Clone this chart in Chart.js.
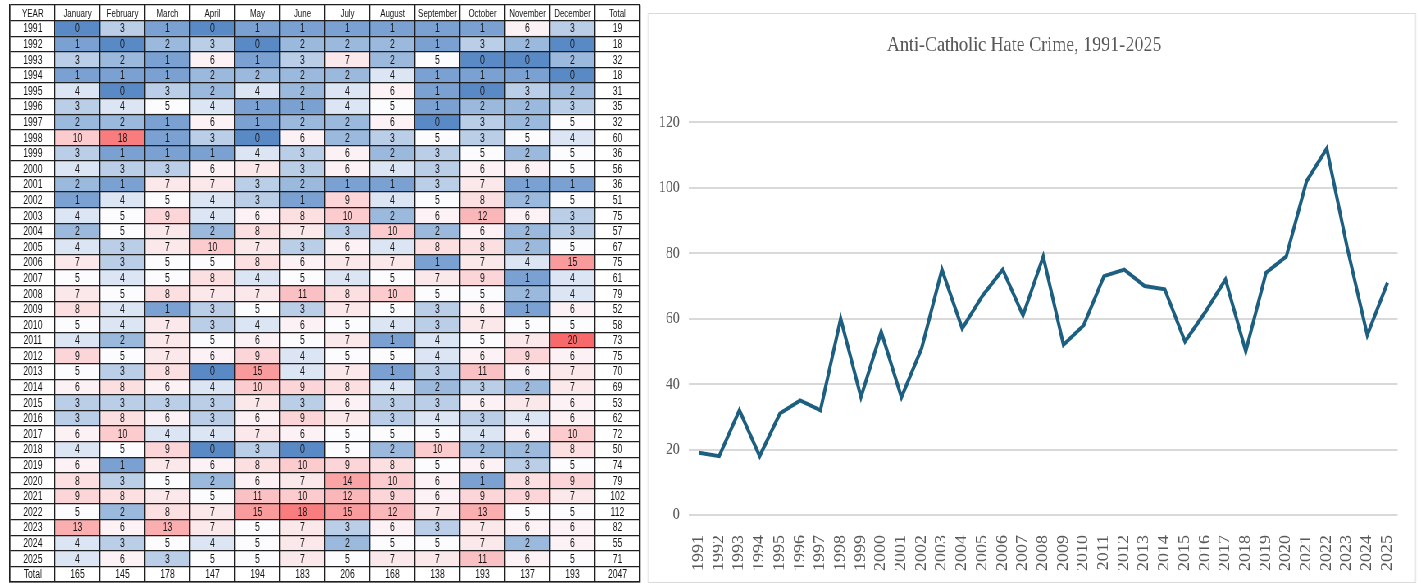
<!DOCTYPE html>
<html>
<head>
<meta charset="utf-8">
<script src="https://cdn.jsdelivr.net/npm/chart.js@4.4.1/dist/chart.umd.min.js"></script>
<style>
  html, body { margin: 0; padding: 0; background: #fff; overflow: hidden; }
  #table-wrap { position: absolute; left: 0; top: 0; width: 645px; height: 583px; }
  /* the reference picture is squeezed sideways, so lay the chart out wide and squeeze */
  #page { position: absolute; left: 0; top: 0; width: 1732px; height: 583px; transform: scaleX(0.82); transform-origin: 0 0; }
  #line-wrap { position: absolute; left: 790px; top: 13px; width: 935px; height: 568px; border: 1px solid #d9d9d9; }
</style>
</head>
<body>
<div id="table-wrap"><canvas id="heatmap" width="645" height="583"></canvas></div>
<div id="page">
  <div id="line-wrap"><canvas id="trend" width="935" height="568"></canvas></div>
</div>
<script>
const years = [
  1991, 1992, 1993, 1994, 1995, 1996, 1997, 1998, 1999, 2000, 2001, 2002,
  2003, 2004, 2005, 2006, 2007, 2008, 2009, 2010, 2011, 2012, 2013, 2014,
  2015, 2016, 2017, 2018, 2019, 2020, 2021, 2022, 2023, 2024, 2025,
];
const months = [
  "January", "February", "March", "April", "May", "June",
  "July", "August", "September", "October", "November", "December",
];

// one row per year, January..December
const counts = [
  [0, 3, 1, 0, 1, 1, 1, 1, 1, 1, 6, 3],
  [1, 0, 2, 3, 0, 2, 2, 2, 1, 3, 2, 0],
  [3, 2, 1, 6, 1, 3, 7, 2, 5, 0, 0, 2],
  [1, 1, 1, 2, 2, 2, 2, 4, 1, 1, 1, 0],
  [4, 0, 3, 2, 4, 2, 4, 6, 1, 0, 3, 2],
  [3, 4, 5, 4, 1, 1, 4, 5, 1, 2, 2, 3],
  [2, 2, 1, 6, 1, 2, 2, 6, 0, 3, 2, 5],
  [10, 18, 1, 3, 0, 6, 2, 3, 5, 3, 5, 4],
  [3, 1, 1, 1, 4, 3, 6, 2, 3, 5, 2, 5],
  [4, 3, 3, 6, 7, 3, 6, 4, 3, 6, 6, 5],
  [2, 1, 7, 7, 3, 2, 1, 1, 3, 7, 1, 1],
  [1, 4, 5, 4, 3, 1, 9, 4, 5, 8, 2, 5],
  [4, 5, 9, 4, 6, 8, 10, 2, 6, 12, 6, 3],
  [2, 5, 7, 2, 8, 7, 3, 10, 2, 6, 2, 3],
  [4, 3, 7, 10, 7, 3, 6, 4, 8, 8, 2, 5],
  [7, 3, 5, 5, 8, 6, 7, 7, 1, 7, 4, 15],
  [5, 4, 5, 8, 4, 5, 4, 5, 7, 9, 1, 4],
  [7, 5, 8, 7, 7, 11, 8, 10, 5, 5, 2, 4],
  [8, 4, 1, 3, 5, 3, 7, 5, 3, 6, 1, 6],
  [5, 4, 7, 3, 4, 6, 5, 4, 3, 7, 5, 5],
  [4, 2, 7, 5, 6, 5, 7, 1, 4, 5, 7, 20],
  [9, 5, 7, 6, 9, 4, 5, 5, 4, 6, 9, 6],
  [5, 3, 8, 0, 15, 4, 7, 1, 3, 11, 6, 7],
  [6, 8, 6, 4, 10, 9, 8, 4, 2, 3, 2, 7],
  [3, 3, 3, 3, 7, 3, 6, 3, 3, 6, 7, 6],
  [3, 8, 6, 3, 6, 9, 7, 3, 4, 3, 4, 6],
  [6, 10, 4, 4, 7, 6, 5, 5, 5, 4, 6, 10],
  [4, 5, 9, 0, 3, 0, 5, 2, 10, 2, 2, 8],
  [6, 1, 7, 6, 8, 10, 9, 8, 5, 6, 3, 5],
  [8, 3, 5, 2, 6, 7, 14, 10, 6, 1, 8, 9],
  [9, 8, 7, 5, 11, 10, 12, 9, 6, 9, 9, 7],
  [5, 2, 8, 7, 15, 18, 15, 12, 7, 13, 5, 5],
  [13, 6, 13, 7, 5, 7, 3, 6, 3, 7, 6, 6],
  [4, 3, 5, 4, 5, 7, 2, 5, 5, 7, 2, 6],
  [4, 6, 3, 5, 5, 7, 5, 7, 7, 11, 6, 5],
];
const yearTotals = [
  19, 18, 32, 18, 31, 35, 32, 60, 36, 56, 36, 51, 75, 57, 67, 75, 61, 79,
  52, 58, 73, 75, 70, 69, 53, 62, 72, 50, 74, 79, 102, 112, 82, 55, 71,
];
const monthTotals = [165, 145, 178, 147, 194, 183, 206, 168, 138, 193, 137, 193];
const grandTotal = 2047;
const yTicks = [0, 20, 40, 60, 80, 100, 120];

const columnNames = ["YEAR", ...months, "Total"];
const rowLabels = ["YEAR", ...years.map(String), "Total"];

// Excel style 3-colour scale: min blue, median white, max red
const allCounts = counts.flat();
const sorted = [...allCounts].sort((a, b) => a - b);
const lowVal = sorted[0];
const highVal = sorted[sorted.length - 1];
const midVal = sorted[Math.floor(sorted.length / 2)];
const lowRgb = [90, 138, 198];
const midRgb = [252, 252, 255];
const highRgb = [248, 105, 107];

function heatColor(v) {
  const mix = (a, b, t) => a.map((x, i) => Math.round(x + (b[i] - x) * t));
  const rgb = v <= midVal
    ? mix(lowRgb, midRgb, (v - lowVal) / (midVal - lowVal))
    : mix(midRgb, highRgb, (v - midVal) / (highVal - midVal));
  return `rgb(${rgb.join(",")})`;
}

function isCountCell(r, c) {
  return r > 0 && r <= years.length && c > 0 && c <= months.length;
}

function cellText(r, c) {
  if (r === 0) return columnNames[c];
  if (r === rowLabels.length - 1) {
    if (c === 0) return "Total";
    if (c === columnNames.length - 1) return grandTotal;
    return monthTotals[c - 1];
  }
  if (c === 0) return years[r - 1];
  if (c === columnNames.length - 1) return yearTotals[r - 1];
  return counts[r - 1][c - 1];
}

const tableDatasets = columnNames.map((name, c) => ({
  label: name,
  data: rowLabels.map(() => 1),
  backgroundColor: rowLabels.map((_, r) =>
    isCountCell(r, c) ? heatColor(counts[r - 1][c - 1]) : "#ffffff"
  ),
  borderWidth: 0,
  barPercentage: 1,
  categoryPercentage: 1,
}));

// narrow font look: draw each cell's text squeezed sideways
const cellLabels = {
  id: "cellLabels",
  afterDraw(chart) {
    const { ctx } = chart;
    ctx.save();
    ctx.fillStyle = "#111";
    ctx.textAlign = "center";
    ctx.textBaseline = "middle";
    chart.data.datasets.forEach((ds, c) => {
      chart.getDatasetMeta(c).data.forEach((bar, r) => {
        const header = r === 0;
        ctx.font = header
          ? "11.5px 'Liberation Sans', Arial, sans-serif"
          : "12px 'Liberation Sans', Arial, sans-serif";
        ctx.save();
        ctx.translate((bar.x + bar.base) / 2, Math.round(bar.y) + 0.5);
        ctx.scale(header ? 0.69 : 0.72, 1);
        ctx.fillText(String(cellText(r, c)), 0, 0);
        ctx.restore();
      });
    });
    ctx.restore();
  },
};

const tableLine = "#1f1f1f";

new Chart(document.getElementById("heatmap"), {
  type: "bar",
  data: { labels: rowLabels, datasets: tableDatasets },
  options: {
    indexAxis: "y",
    responsive: false,
    animation: false,
    events: [],
    layout: { padding: { left: 10, top: 5, right: 5, bottom: 1 } },
    plugins: { legend: { display: false }, tooltip: { enabled: false } },
    scales: {
      x: {
        type: "linear",
        stacked: true,
        min: 0,
        max: columnNames.length,
        ticks: { display: false, stepSize: 1 },
        grid: { color: tableLine, lineWidth: 1.3, drawTicks: false, z: 1 },
        border: { color: tableLine, width: 1.5, z: 2 },
      },
      y: {
        stacked: true,
        ticks: { display: false, autoSkip: false },
        grid: { offset: true, color: tableLine, lineWidth: 1.3, drawTicks: false, z: 1 },
        border: { color: tableLine, width: 1.5, z: 2 },
      },
    },
  },
  plugins: [cellLabels],
});

const serif = "'Liberation Serif', 'Times New Roman', serif";

new Chart(document.getElementById("trend"), {
  type: "line",
  data: {
    labels: years.map(String),
    datasets: [
      {
        label: "Anti-Catholic Hate Crime",
        data: yearTotals,
        borderColor: "#1c5f80",
        borderWidth: 4,
        pointRadius: 0,
        tension: 0,
        fill: false,
      },
    ],
  },
  options: {
    responsive: false,
    animation: false,
    events: [],
    layout: { padding: { left: 0, right: 19, top: 0, bottom: 0 } },
    plugins: {
      legend: { display: false },
      tooltip: { enabled: false },
      title: {
        display: true,
        text: "Anti-Catholic Hate Crime, 1991-2025",
        color: "#595959",
        font: { family: serif, size: 22, weight: "normal" },
        padding: { top: 18, bottom: 64 },
      },
    },
    scales: {
      x: {
        offset: true,
        grid: { display: false },
        border: { display: false },
        ticks: {
          color: "#595959",
          font: { family: serif, size: 18 },
          minRotation: 90,
          maxRotation: 90,
          autoSkip: false,
          padding: 12,
        },
        afterFit: (scale) => { scale.height = 67; },
      },
      y: {
        min: yTicks[0],
        max: yTicks[yTicks.length - 1],
        ticks: {
          stepSize: yTicks[1] - yTicks[0],
          color: "#595959",
          font: { family: serif, size: 17 },
          padding: 11,
        },
        grid: { color: "#d9d9d9", lineWidth: 2, drawTicks: false },
        border: { display: false },
        afterFit: (scale) => { scale.width = 49; },
      },
    },
  },
});
</script>
</body>
</html>
